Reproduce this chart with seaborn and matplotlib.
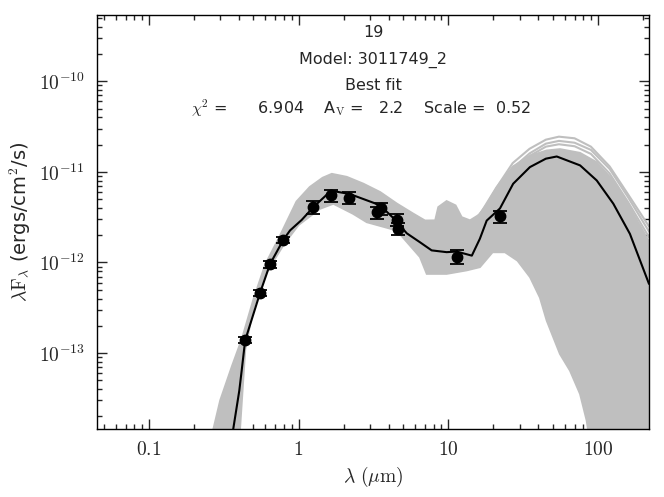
import numpy as np
import pandas as pd
import matplotlib
matplotlib.use('Agg')
import matplotlib.pyplot as plt
import seaborn as sns
from matplotlib.ticker import NullFormatter

# best fit model SED (microns, ergs/cm^2/s)
lam_fit = [0.33, 0.366, 0.402, 0.417, 0.44, 0.553, 0.645, 0.792, 0.878, 1.05, 1.26, 1.65,
           2.2, 3.24, 3.6, 4.3, 5.29, 6.49, 7.76, 9.77, 11.4, 14.4, 16.3, 18.1, 22.2,
           27.2, 35.2, 45.0, 53.2, 76.2, 98.4, 127.0, 164.0, 220.0]
f_fit = [5e-15, 1.44e-14, 3.85e-14, 6.4e-14, 1.38e-13, 4.6e-13, 9.6e-13, 1.78e-12, 2.26e-12,
         2.95e-12, 4.1e-12, 6.2e-12, 5.7e-12, 4.5e-12, 4.1e-12, 3.1e-12, 2.1e-12, 1.67e-12,
         1.36e-12, 1.3e-12, 1.32e-12, 1.19e-12, 1.83e-12, 2.9e-12, 3.95e-12, 7.4e-12,
         1.13e-11, 1.4e-11, 1.48e-11, 1.18e-11, 8.05e-12, 4.46e-12, 2.07e-12, 5.8e-13]

# observed fluxes
lam_obs = [0.44, 0.553, 0.645, 0.792, 1.25, 1.66, 2.18, 3.33, 3.58, 4.54, 4.65, 11.5, 22.2]
f_obs = [1.41e-13, 4.6e-13, 9.5e-13, 1.78e-12, 4.08e-12, 5.5e-12, 5.2e-12, 3.57e-12,
         3.95e-12, 2.96e-12, 2.35e-12, 1.16e-12, 3.22e-12]
err_frac = [0.08, 0.08, 0.08, 0.08, 0.16, 0.15, 0.15, 0.15, 0.15, 0.15, 0.15, 0.17, 0.16]

# envelope of the dense set of other good fits
lam_hi = [0.25, 0.27, 0.30, 0.36, 0.42, 0.5, 0.6, 0.75, 0.97, 1.19, 1.45, 1.67, 2.1, 2.71,
          3.51, 4.54, 5.85, 7.0, 8.2, 8.6, 9.77, 11.2, 12.3, 14.0, 16.3, 21.1, 27.2, 35.2,
          45.5, 56.0, 76.0, 98.0, 127.0, 164.0, 220.0]
f_hi = [8e-15, 1.44e-14, 3.0e-14, 7.2e-14, 1.45e-13, 3.9e-13, 9.5e-13, 1.95e-12, 4.7e-12,
        6.8e-12, 8.6e-12, 9.5e-12, 8.8e-12, 7.4e-12, 5.98e-12, 4.46e-12, 3.45e-12, 2.9e-12,
        2.91e-12, 4.08e-12, 4.75e-12, 4.26e-12, 3.16e-12, 2.91e-12, 3.4e-12, 6.8e-12,
        1.15e-11, 1.5e-11, 1.72e-11, 1.78e-11, 1.62e-11, 1.28e-11, 8.0e-12, 4.0e-12, 1.7e-12]
lam_lo = [0.40, 0.44, 0.5, 0.6, 0.8, 1.0, 1.39, 1.71, 2.32, 2.86, 4.54, 6.49, 7.2, 9.77,
          13.3, 16.3, 19.8, 24.0, 29.1, 35.3, 41.1, 45.6, 55.9, 65.3, 76.2, 84.4, 95.0, 220.0]
f_lo = [1.0e-14, 1.1e-13, 3.2e-13, 7.4e-13, 1.6e-12, 2.6e-12, 3.92e-12, 4.46e-12, 3.45e-12,
        2.79e-12, 2.26e-12, 1.15e-12, 7.5e-13, 7.5e-13, 8.2e-13, 8.9e-13, 1.3e-12, 1.3e-12,
        1.05e-12, 6.9e-13, 4.1e-13, 2.29e-13, 9.8e-14, 6.4e-14, 3.54e-14, 1.8e-14, 5e-15, 5e-15]

# a few of the brighter far-IR fits standing above the rest
lam_fan = [15.0, 18.0, 22.0, 27.0, 35.0, 45.0, 55.0, 70.0, 90.0, 120.0, 160.0, 220.0]
fan_a = [2.9e-12, 4.3e-12, 7.5e-12, 1.25e-11, 1.8e-11, 2.27e-11, 2.45e-11, 2.35e-11,
         1.9e-11, 1.15e-11, 5.6e-12, 2.5e-12]
fan_b = [2.9e-12, 4.1e-12, 6.8e-12, 1.1e-11, 1.6e-11, 2.05e-11, 2.2e-11, 2.1e-11,
         1.75e-11, 1.08e-11, 5.2e-12, 2.2e-12]
fan_c = [2.9e-12, 3.9e-12, 6.4e-12, 1.02e-11, 1.5e-11, 1.9e-11, 2.02e-11, 1.92e-11,
         1.58e-11, 9.6e-12, 4.6e-12, 1.9e-12]

sns.set_style("ticks")
plt.rcParams['mathtext.fontset'] = 'cm'
plt.rcParams['font.family'] = ['DejaVu Sans']

fig = plt.figure(figsize=(6.64, 4.97), dpi=100)
ax = fig.add_axes([97/664, 68/497, 552/664, 414/497])

grey = '0.75'
ax.fill(lam_hi + lam_lo[::-1], f_hi + f_lo[::-1], color=grey, lw=1.5, ec=grey, zorder=1)

fans = pd.DataFrame({'lam': lam_fan * 3,
                     'flux': fan_a + fan_b + fan_c,
                     'model': np.repeat(['a', 'b', 'c'], len(lam_fan))})
sns.lineplot(data=fans, x='lam', y='flux', units='model', estimator=None, sort=False,
             color=grey, lw=1.5, ax=ax, zorder=2)

fit = pd.DataFrame({'lam': lam_fit, 'flux': f_fit})
sns.lineplot(data=fit, x='lam', y='flux', estimator=None, sort=False, color='black',
             lw=1.5, ax=ax, zorder=3)

yerr = np.array(f_obs) * np.array(err_frac)
ax.errorbar(lam_obs, f_obs, yerr=yerr, fmt='o', color='black', ms=7.5, capsize=5,
            capthick=1.3, elinewidth=1.3, zorder=4)

ax.set_xscale('log')
ax.set_yscale('log')
ax.set_xlim(0.045, 220)
ax.set_ylim(1.45e-14, 5.4e-10)

ax.set_xticks([0.1, 1, 10, 100])
ax.set_xticklabels([r'$0.1$', r'$1$', r'$10$', r'$100$'])
ax.set_yticks([1e-13, 1e-12, 1e-11, 1e-10])
ax.set_yticklabels([r'$10^{-13}$', r'$10^{-12}$', r'$10^{-11}$', r'$10^{-10}$'])
ax.xaxis.set_minor_formatter(NullFormatter())
ax.yaxis.set_minor_formatter(NullFormatter())
ax.tick_params(which='both', direction='in', top=True, right=True, labelsize=14)
ax.tick_params(which='major', length=7, width=1)
ax.tick_params(which='minor', length=3.5, width=1)
ax.tick_params(axis='x', pad=8)
ax.tick_params(axis='y', pad=9)
for s in ax.spines.values():
    s.set_linewidth(1)
    s.set_color('black')

ax.set_xlabel(r'$\lambda\ (\mu{\rm m})$', fontsize=14)
ax.set_ylabel(r'$\lambda{\rm F}_\lambda$ (ergs/cm$^2$/s)', fontsize=14)

ax.text(0.5, 0.957, '19', transform=ax.transAxes, ha='center', va='center', fontsize=11.5)
ax.text(0.5, 0.891, 'Model: 3011749_2', transform=ax.transAxes, ha='center', va='center', fontsize=11.5)
ax.text(0.5, 0.83, 'Best fit', transform=ax.transAxes, ha='center', va='center', fontsize=11.5)
ax.text(0.478, 0.775, r'$\chi^2$ =      6.904    A$_{\rm V}$ =   2.2    Scale =  0.52',
        transform=ax.transAxes, ha='center', va='center', fontsize=11.5)

fig.savefig('out.png', dpi=100)
